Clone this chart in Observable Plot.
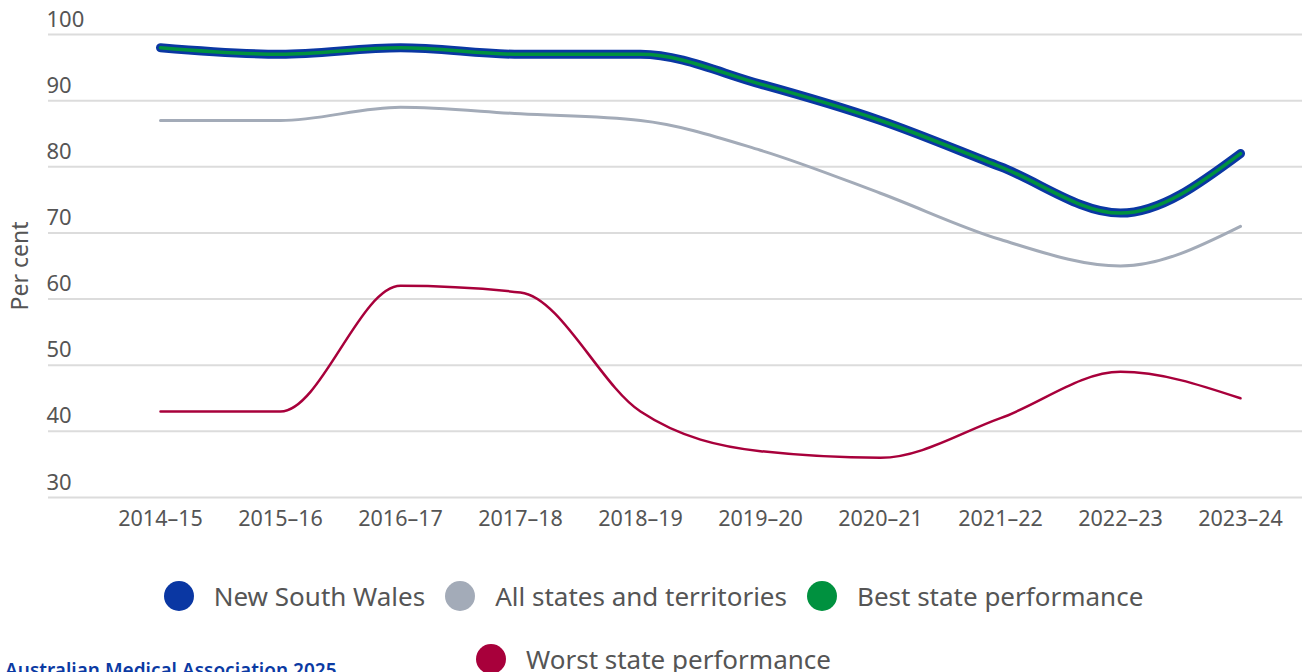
<!DOCTYPE html>
<html>
<head>
<meta charset="utf-8">
<script src="https://cdn.jsdelivr.net/npm/d3@7"></script>
<script src="https://cdn.jsdelivr.net/npm/@observablehq/plot@0.6"></script>
<style>
  html, body { margin: 0; padding: 0; background: #fff; overflow: hidden; width: 1307px; height: 672px; }
  body { position: relative; font-family: "Noto Sans", sans-serif; }
  #chart { position: absolute; left: 0; top: 0; }
  #legend { position: absolute; left: 0; top: 580px; width: 1307px; display: flex; justify-content: center; }
  #legend .inner { width: 1040px; display: flex; flex-wrap: wrap; justify-content: center; row-gap: 31px; }
  .item { display: inline-flex; align-items: center; font-size: 26px; color: #555; margin: 0 10px; height: 32px; }
  .dot { width: 30px; height: 30px; border-radius: 50%; margin-right: 20px; display: inline-block; }
  #caption { position: absolute; left: 5px; top: 657px; font-size: 19px; color: #0b3aa3; font-weight: 600; white-space: nowrap; }
</style>
</head>
<body>
<div id="chart"></div>
<div id="legend"><div class="inner"></div></div>
<div id="caption">Australian Medical Association 2025</div>
<script>
const years = ["2014–15","2015–16","2016–17","2017–18","2018–19","2019–20","2020–21","2021–22","2022–23","2023–24"];
const nswValues = [98, 97, 98, 97, 97, 92.5, 87, 80, 73, 82];
const allStatesValues = [87, 87, 89, 88, 87, 82.5, 76, 69, 65, 71];
const bestStateValues = [98, 97, 98, 97, 97, 92.5, 87, 80, 73, 82];
const worstStateValues = [43, 43, 62, 61, 43, 37, 36, 42, 49, 45];
const yTicks = [30, 40, 50, 60, 70, 80, 90, 100];

const seriesNames = ["New South Wales", "All states and territories", "Best state performance", "Worst state performance"];
const seriesColors = ["#0a37a3", "#a3abb8", "#00913f", "#a8003b"];

const toRows = (vals, name) => years.map((y, i) => ({year: y, value: vals[i], series: name}));
const nsw = toRows(nswValues, seriesNames[0]);
const all = toRows(allStatesValues, seriesNames[1]);
const best = toRows(bestStateValues, seriesNames[2]);
const worst = toRows(worstStateValues, seriesNames[3]);

const font = "Noto Sans, sans-serif";

const chart = Plot.plot({
  width: 1307,
  height: 545,
  marginLeft: 48,
  marginRight: 5,
  marginTop: 34,
  marginBottom: 48,
  style: {fontFamily: font, background: "#fff", overflow: "visible"},
  x: {type: "point", domain: years, range: [160, 1240], padding: 0, label: null},
  y: {domain: [30, 100], label: null},
  marks: [
    Plot.gridY(yTicks, {stroke: "#dcdcdc", strokeOpacity: 1, strokeWidth: 2}),
    Plot.axisY(yTicks, {tickSize: 0, textAnchor: "start", dx: 7, dy: -15, fontSize: 22, fill: "#555", label: null}),
    Plot.axisX({tickSize: 0, tickPadding: 13, fontSize: 21.5, fill: "#555", label: null}),
    Plot.text(["Per cent"], {frameAnchor: "left", textAnchor: "middle", rotate: -90, dx: -28, fontSize: 23, fill: "#555", fontFamily: font}),
    Plot.lineY(all, {x: "year", y: "value", stroke: seriesColors[1], strokeWidth: 3, curve: "monotone-x"}),
    Plot.lineY(worst, {x: "year", y: "value", stroke: seriesColors[3], strokeWidth: 2.5, curve: "monotone-x"}),
    Plot.lineY(nsw, {x: "year", y: "value", stroke: seriesColors[0], strokeWidth: 9, curve: "monotone-x"}),
    Plot.lineY(best, {x: "year", y: "value", stroke: seriesColors[2], strokeWidth: 3.5, curve: "monotone-x"})
  ]
});
document.getElementById("chart").appendChild(chart);

const inner = document.querySelector("#legend .inner");
seriesNames.forEach((name, i) => {
  const item = document.createElement("span");
  item.className = "item";
  const dot = document.createElement("span");
  dot.className = "dot";
  dot.style.background = seriesColors[i];
  const label = document.createElement("span");
  label.textContent = name;
  item.appendChild(dot);
  item.appendChild(label);
  inner.appendChild(item);
});
</script>
</body>
</html>
